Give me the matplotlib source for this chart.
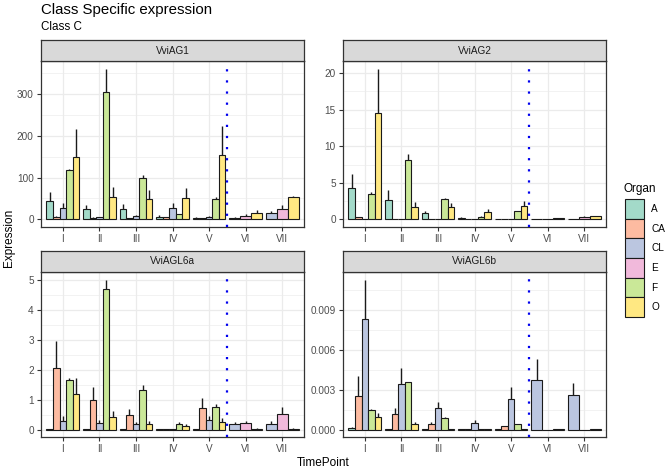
import matplotlib
matplotlib.use("Agg")
import matplotlib.pyplot as plt
from matplotlib.patches import Rectangle
from matplotlib.ticker import MultipleLocator

plt.rcParams['font.family'] = ['Liberation Sans', 'DejaVu Sans']

# Categories
timepoints = ['I', 'II', 'III', 'IV', 'V', 'VI', 'VII']
organs = ['A', 'CA', 'CL', 'E', 'F', 'O']
early_organs = ['A', 'CA', 'CL', 'F', 'O']   # timepoints I - V
late_organs = ['CL', 'E', 'O']               # timepoints VI - VII
genes = ['VviAG1', 'VviAG2', 'VviAGL6a', 'VviAGL6b']

# mean expression (one row per timepoint) and mean + se
ag1_mean = [[44, 6, 28, 117, 148], [24, 4, 5, 303, 54], [26, 3, 8, 98, 49],
            [7, 6, 27, 13, 52], [4, 3, 6, 49, 153], [4, 9, 16], [15, 24, 54]]
ag1_upper = [[65, 8, 40, 120, 216], [35, 5, 6, 360, 78], [38, 4, 10, 105, 71],
             [10, 7, 39, 14, 76], [5, 4, 8, 54, 222], [6, 12, 23], [21, 35, 55]]

ag2_mean = [[4.3, 0.27, 0.1, 3.5, 14.5], [2.7, 0.03, 0.03, 8.1, 1.7],
            [0.87, 0.03, 0.03, 2.8, 1.7], [0.18, 0.03, 0.09, 0.37, 1.0],
            [0.09, 0.02, 0.02, 1.14, 1.78], [0.05, 0.1, 0.18], [0.07, 0.37, 0.45]]
ag2_upper = [[6.2, 0.35, 0.12, 3.7, 20.6], [4.0, 0.04, 0.04, 9.0, 2.4],
             [1.2, 0.04, 0.04, 2.95, 2.3], [0.27, 0.04, 0.1, 0.5, 1.37],
             [0.1, 0.03, 0.03, 1.2, 2.56], [0.06, 0.12, 0.22], [0.08, 0.5, 0.47]]

agl6a_mean = [[0.02, 2.05, 0.3, 1.65, 1.18], [0.02, 1.0, 0.22, 4.7, 0.42],
              [0.02, 0.5, 0.18, 1.32, 0.2], [0.01, 0.01, 0.02, 0.2, 0.13],
              [0.01, 0.73, 0.32, 0.75, 0.26], [0.18, 0.22, 0.03], [0.2, 0.52, 0.03]]
agl6a_upper = [[0.03, 2.95, 0.45, 1.72, 1.72], [0.03, 1.42, 0.32, 5.0, 0.62],
               [0.03, 0.7, 0.25, 1.48, 0.28], [0.02, 0.02, 0.03, 0.24, 0.17],
               [0.02, 1.05, 0.45, 0.86, 0.37], [0.24, 0.28, 0.04], [0.28, 0.74, 0.04]]

agl6b_mean = [[0.00015, 0.0025, 0.00835, 0.0015, 0.00095],
              [0.00005, 0.00115, 0.0034, 0.0036, 0.0004],
              [0.00002, 0.00043, 0.00165, 0.0009, 0.00003],
              [0.00001, 0.00001, 0.00048, 0.00005, 0.00002],
              [0.00002, 0.00023, 0.0023, 0.00038, 0.00002],
              [0.0037, 0.0, 0.00002], [0.0026, 0.0, 0.00002]]
agl6b_upper = [[0.0002, 0.004, 0.0113, 0.00155, 0.00128],
               [0.00006, 0.00165, 0.0046, 0.0036, 0.00055],
               [0.00003, 0.0006, 0.0021, 0.00093, 0.00004],
               [0.00001, 0.00001, 0.0007, 0.00006, 0.00003],
               [0.00003, 0.0003, 0.0032, 0.0004, 0.00003],
               [0.0053, 0.0, 0.00003], [0.0035, 0.0, 0.00003]]

y_major = [100, 5, 1, 0.003]
y_fmt = ['{:.0f}', '{:.0f}', '{:.0f}', '{:.3f}']

colors = {'A': '#a3dac9', 'CA': '#fdbba1', 'CL': '#bbc6e0',
          'E': '#f1b9db', 'F': '#cae898', 'O': '#ffe882'}

W, H = 666, 469
fig = plt.figure(figsize=(W / 100, H / 100), dpi=100)


def box(l, t, r, b):
    return [l / W, 1 - b / H, (r - l) / W, (b - t) / H]


panels = [(41, 61, 304, 227), (343, 61, 606, 227),
          (41, 272, 304, 437), (343, 272, 606, 437)]
strip_h = 21

means = [ag1_mean, ag2_mean, agl6a_mean, agl6b_mean]
uppers = [ag1_upper, ag2_upper, agl6a_upper, agl6b_upper]

for g, gene in enumerate(genes):
    l, t, r, b = panels[g]
    ax = fig.add_axes(box(l, t, r, b))
    dodge = 0.9
    for i, tp in enumerate(timepoints):
        org = early_organs if i < 5 else late_organs
        n = len(org)
        w = dodge / n
        for k, o in enumerate(org):
            x = i + 1 - dodge / 2 + w * (k + 0.5)
            ax.bar(x, means[g][i][k], width=w, color=colors[o],
                   edgecolor='#1a1a1a', linewidth=0.8, zorder=2)
            ax.plot([x, x], [means[g][i][k], uppers[g][i][k]],
                    color='#1a1a1a', lw=1.0, zorder=3, solid_capstyle='butt')
    ax.axvline(5.5, color='#0000ee', lw=1.6, linestyle=(0, (1, 4)), zorder=4)

    top = max(max(row) for row in uppers[g])
    pad = top * 0.05
    ax.set_ylim(-pad, top + pad)
    ax.set_xlim(0.4, 7.6)
    ax.set_xticks(range(1, 8))
    ax.set_xticklabels(timepoints)
    ax.yaxis.set_major_locator(MultipleLocator(y_major[g]))
    ax.yaxis.set_minor_locator(MultipleLocator(y_major[g] / 2))
    ax.yaxis.set_major_formatter(plt.FuncFormatter(
        lambda v, p, f=y_fmt[g]: f.format(0.0 if abs(v) < 1e-12 else v)))
    ax.grid(which='major', color='#ebebeb', lw=0.9, zorder=0)
    ax.grid(which='minor', axis='y', color='#ebebeb', lw=0.45, zorder=0)
    ax.set_axisbelow(True)
    ax.tick_params(which='major', length=3.2, width=0.8, color='#333333',
                   labelsize=7.2, labelcolor='#4d4d4d', pad=2)
    ax.tick_params(which='minor', length=0)
    for s in ax.spines.values():
        s.set_color('#333333')
        s.set_linewidth(0.9)

    sax = fig.add_axes(box(l, t - strip_h, r, t))
    sax.set_facecolor('#d9d9d9')
    sax.set_xticks([])
    sax.set_yticks([])
    for s in sax.spines.values():
        s.set_color('#333333')
        s.set_linewidth(0.9)
    sax.text(0.5, 0.5, gene, ha='center', va='center', fontsize=7.2,
             color='#1a1a1a', transform=sax.transAxes)

fig.text(41 / W, 1 - 14 / H, 'Class Specific expression', fontsize=10.8,
         ha='left', va='baseline')
fig.text(41 / W, 1 - 30 / H, 'Class C', fontsize=8.4, ha='left', va='baseline')
fig.text(9 / W, 1 - 238 / H, 'Expression', fontsize=8.5, rotation=90,
         ha='center', va='center')
fig.text(323 / W, 1 - 466 / H, 'TimePoint', fontsize=8.5, ha='center',
         va='baseline')

# legend drawn as key boxes in pixel space
leg = fig.add_axes([0, 0, 1, 1], facecolor='none')
leg.set_xlim(0, W)
leg.set_ylim(H, 0)
leg.axis('off')
leg.text(624, 192, 'Organ', fontsize=8.5, ha='left', va='baseline')
key_top, key_h = 199, 19.7
for k, o in enumerate(organs):
    y0 = key_top + k * key_h
    leg.add_patch(Rectangle((625, y0), 19, key_h, facecolor=colors[o],
                            edgecolor='#1a1a1a', lw=0.8))
    leg.text(651, y0 + key_h / 2, o, fontsize=7.2, ha='left', va='center')

fig.savefig('out.png', dpi=100)
